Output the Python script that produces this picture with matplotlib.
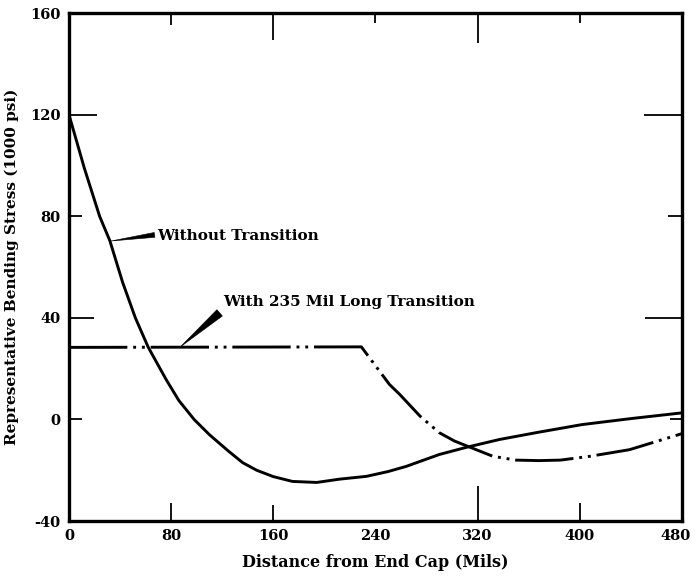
import numpy as np
import matplotlib.pyplot as plt
import matplotlib.transforms as mtransforms

# solid curve, no transition
x_plain = [0, 12, 24, 32, 42, 52, 62, 76, 86, 98, 110, 125, 136, 147, 160, 175, 194, 212, 233, 250, 264, 290, 311, 337, 368, 402, 441, 480]
y_plain = [120, 99, 80, 70.4, 54, 40, 28.5, 15.8, 7.5, 0, -6, -12.5, -17, -20, -22.5, -24.4, -24.8, -23.5, -22.4, -20.5, -18.5, -13.8, -11, -7.9, -5, -2, 0.4, 2.6]

# dash-dot-dot curve, 235 mil long transition
x_trans = [0, 229, 240, 251, 259, 275, 290, 302, 314, 332, 350, 368, 385, 408, 439, 480]
y_trans = [28.4, 28.6, 21.2, 13.8, 9.9, 1.3, -5.2, -8.5, -10.9, -14.5, -16, -16.2, -16, -14.5, -11.9, -5.6]

xticks = [0, 80, 160, 240, 320, 400, 480]
yticks = [-40, 0, 40, 80, 120, 160]

# tick lengths in pixels, hand drawn in the original so they vary
len_bottom = [0, 18, 16, 0, 35, 18, 0]
len_top = [0, 12, 27, 10, 30, 10, 0]
len_left = [0, 13, 25, 13, 28, 0]
len_right = [0, 12, 37, 14, 38, 0]

plt.rcParams['font.family'] = ['DejaVu Serif']
plt.rcParams['font.weight'] = 'bold'
plt.rcParams['axes.unicode_minus'] = False

fig = plt.figure(figsize=(6.95, 5.77), dpi=100)
ax = fig.add_axes([0.0993, 0.097, 0.8817, 0.880])

ax.plot(x_plain, y_plain, color='black', lw=2.1, solid_joinstyle='round')
ax.plot(x_trans, y_trans, color='black', lw=2.1, dashes=(20, 2, 1, 2, 1, 2))

# labels and their pointers
ax.text(69, 72.3, 'Without Transition', fontsize=11, fontweight='bold', va='center')
ax.annotate('', xy=(33, 70.3), xytext=(67, 72.7),
            arrowprops=dict(arrowstyle='wedge,tail_width=0.35', lw=0.4, color='black',
                            fc='black', shrinkA=0, shrinkB=0))
ax.text(121, 46.2, 'With 235 Mil Long Transition', fontsize=11, fontweight='bold', va='center')
ax.annotate('', xy=(87, 28.5), xytext=(118, 42),
            arrowprops=dict(arrowstyle='wedge,tail_width=0.6', lw=0.4, color='black',
                            fc='black', shrinkA=0, shrinkB=0, capstyle='round'))

ax.set_xlim(0, 480)
ax.set_ylim(-40, 160)
ax.set_xticks(xticks)
ax.set_yticks(yticks)
ax.tick_params(direction='in', width=1.3, top=True, right=True,
               labelsize=10.5, pad=6)
for lab in ax.get_xticklabels() + ax.get_yticklabels():
    lab.set_fontweight('bold')

# keep "480" inside the picture
last = ax.get_xticklabels()[-1]
last.set_transform(last.get_transform() + mtransforms.ScaledTranslation(-0.06, 0, fig.dpi_scale_trans))

for t, lb, lt in zip(ax.xaxis.get_major_ticks(), len_bottom, len_top):
    t.tick1line.set_markersize(lb * 0.72)
    t.tick2line.set_markersize(lt * 0.72)
for t, ll, lr in zip(ax.yaxis.get_major_ticks(), len_left, len_right):
    t.tick1line.set_markersize(ll * 0.72)
    t.tick2line.set_markersize(lr * 0.72)

for sp in ax.spines.values():
    sp.set_linewidth(2.4)

ax.set_xlabel('Distance from End Cap (Mils)', fontsize=11.5, fontweight='bold', labelpad=8)
ax.set_ylabel('Representative Bending Stress (1000 psi)', fontsize=11, fontweight='bold', labelpad=8)

fig.savefig('out.png', dpi=100)
